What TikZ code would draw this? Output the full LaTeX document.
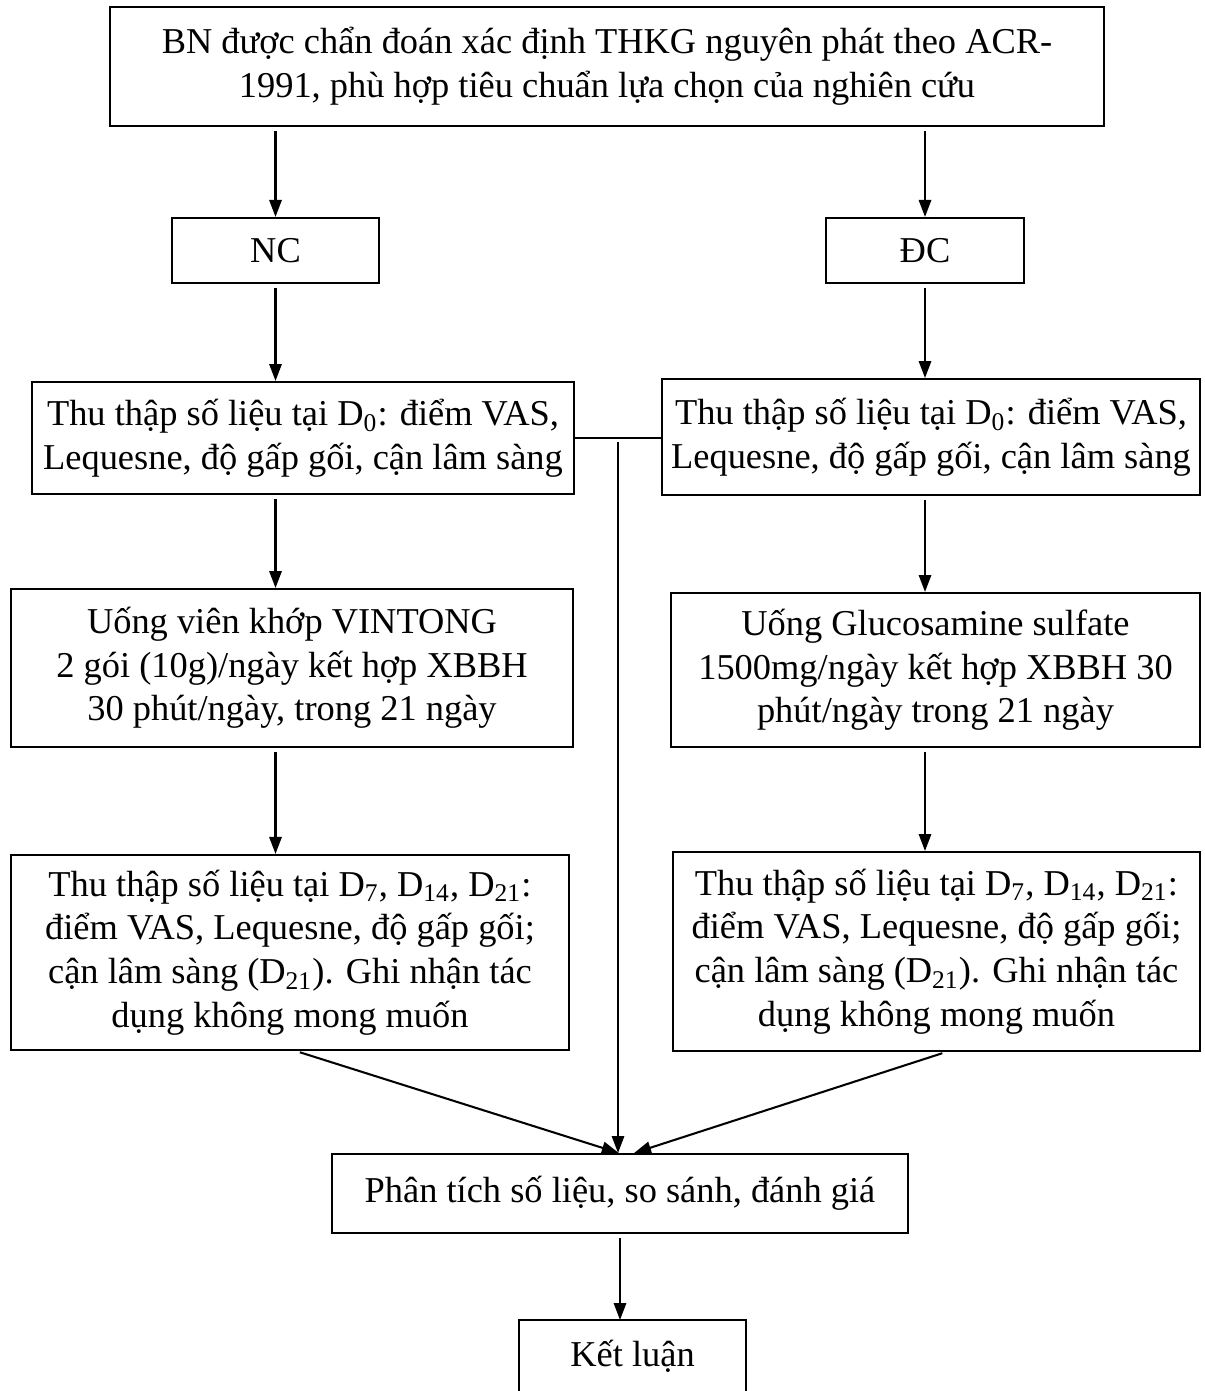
\documentclass[tikz,border=0pt]{standalone}
\usepackage{fontspec}
\setmainfont{Liberation Serif}
\usepackage{tikz}
\usetikzlibrary{arrows.meta, positioning, calc}

\begin{document}
\begin{tikzpicture}[x=0.39pt, y=-0.39pt,
    box/.style={rectangle, draw, line width=0.8pt, align=center, inner sep=0pt, font=\fontsize{14.2}{17}\selectfont},
    arr/.style={-{Triangle[length=6.6pt,width=4.8pt]}, line width=0.8pt, shorten <=1.5pt}]
    \useasboundingbox (0,0) rectangle (1205,1391);

    \node[box, minimum width=387.7pt, minimum height=46.4pt] (top) at (607,66.5) {BN được chẩn đoán xác định THKG nguyên phát theo ACR-\\1991, phù hợp tiêu chuẩn lựa chọn của nghiên cứu};
    \node[box, minimum width=80.7pt, minimum height=25.4pt] (nc) at (275.5,250.5) {NC};
    \node[box, minimum width=77.2pt, minimum height=25.4pt] (dc) at (925,250.5) {ĐC};
    \node[box, minimum width=211.4pt, minimum height=43.7pt] (d0l) at (303,438) {Thu thập số liệu tại D\textsubscript{0}: điểm VAS,\\Lequesne, độ gấp gối, cận lâm sàng};
    \node[box, minimum width=209.8pt, minimum height=45.2pt] (d0r) at (931,437) {Thu thập số liệu tại D\textsubscript{0}: điểm VAS,\\Lequesne, độ gấp gối, cận lâm sàng};
    \node[box, minimum width=219.2pt, minimum height=61.6pt] (ul) at (292,668) {Uống viên khớp VINTONG\\2 gói (10g)/ngày kết hợp XBBH\\30 phút/ngày, trong 21 ngày};
    \node[box, minimum width=206.3pt, minimum height=60.1pt] (ur) at (935.5,670) {Uống Glucosamine sulfate\\1500mg/ngày kết hợp XBBH 30\\phút/ngày trong 21 ngày};
    \node[box, minimum width=217.6pt, minimum height=76.1pt] (tl) at (290,952.5) {Thu thập số liệu tại D\textsubscript{7}, D\textsubscript{14}, D\textsubscript{21}:\\điểm VAS, Lequesne, độ gấp gối;\\cận lâm sàng (D\textsubscript{21}). Ghi nhận tác\\dụng không mong muốn};
    \node[box, minimum width=205.5pt, minimum height=77.6pt] (tr) at (936.5,951.5) {Thu thập số liệu tại D\textsubscript{7}, D\textsubscript{14}, D\textsubscript{21}:\\điểm VAS, Lequesne, độ gấp gối;\\cận lâm sàng (D\textsubscript{21}). Ghi nhận tác\\dụng không mong muốn};
    \node[box, minimum width=224.6pt, minimum height=30.8pt] (pt) at (620,1193.5) {Phân tích số liệu, so sánh, đánh giá};
    \node[box, draw=none, minimum width=87.8pt, minimum height=27.3pt] (kl) at (632.5,1356) {Kết luận};
    \draw[line width=0.8pt] (kl.south west) -- (kl.north west) -- (kl.north east) -- (kl.south east);

    \draw[arr] (top.south -| nc.north) -- (nc.north);
    \draw[arr] (top.south -| dc.north) -- (dc.north);
    \draw[arr] (nc.south) -- (d0l.north -| nc.south);
    \draw[arr] (dc.south) -- (d0r.north -| dc.south);
    \draw[arr] (d0l.south -| nc.south) -- (ul.north -| nc.south);
    \draw[arr] (d0r.south -| dc.south) -- (ur.north -| dc.south);
    \draw[arr] (ul.south -| nc.south) -- (tl.north -| nc.south);
    \draw[arr] (ur.south -| dc.south) -- (tr.north -| dc.south);

    \draw[line width=0.8pt] (d0l.east) -- (d0r.west |- d0l.east);
    \coordinate (mid) at ($(d0l.east)!0.5!(d0r.west |- d0l.east)$);
    \draw[arr] (mid) -- (mid |- pt.north);
    \draw[arr] ([xshift=2.4pt]tl.south) -- ([xshift=-0.5pt]pt.north);
    \draw[arr] ([xshift=3.7pt]tr.south) -- ([xshift=5.5pt]pt.north);
    \draw[arr] (pt.south) -- (kl.north -| pt.south);
\end{tikzpicture}
\end{document}
